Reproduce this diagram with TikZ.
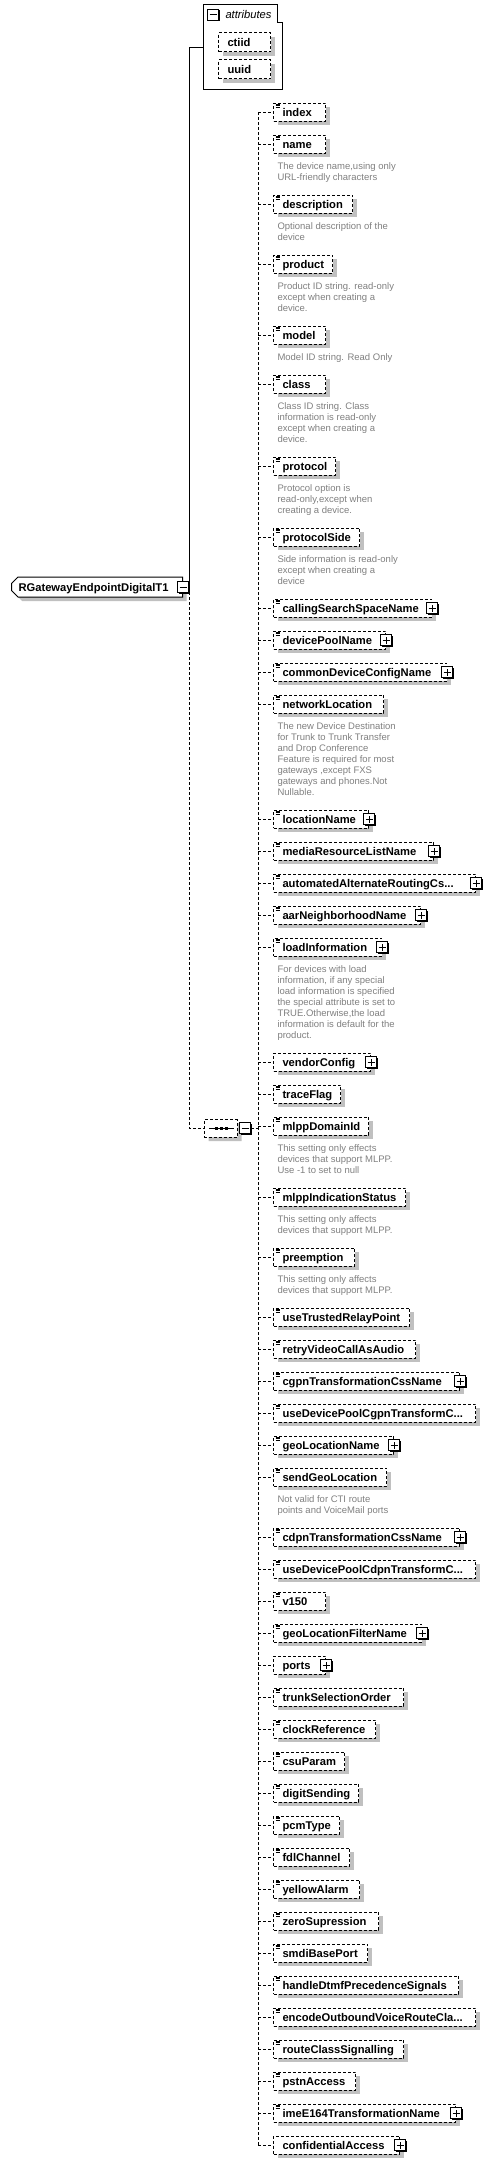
\documentclass[tikz,border=0pt]{standalone}
\usepackage{fontspec}
\setmainfont{Liberation Sans}
\usetikzlibrary{positioning, shapes.misc, shadows}
\definecolor{shadowGray}{HTML}{C0C0C0}
\definecolor{descGray}{HTML}{808080}
\tikzset{
  link/.style={dash pattern=on 3pt off 2pt},
  boxshadow/.style={general shadow={fill=shadowGray, shadow xshift=4pt, shadow yshift=-4pt}},
  elem/.style={draw, dash pattern=on 3pt off 2pt, fill=white, boxshadow, anchor=west,
    inner xsep=9pt, inner ysep=0pt, minimum height=18pt, text height=8pt, text depth=0pt,
    align=left, font=\fontsize{11.2}{13}\selectfont\bfseries},
  root/.style={draw, solid, fill=white, boxshadow, chamfered rectangle,
    chamfered rectangle corners={north west,south west}, chamfered rectangle xsep=3pt,
    anchor=west, inner xsep=4pt, inner ysep=0pt, minimum height=20pt, text width=157pt,
    text height=8pt, text depth=0pt, align=left, font=\fontsize{11.2}{13}\selectfont\bfseries},
  seqbox/.style={draw, dash pattern=on 3pt off 2pt, fill=white, boxshadow, chamfered rectangle,
    chamfered rectangle xsep=4pt, anchor=west, inner sep=0pt, minimum width=33pt, minimum height=18pt},
  expand/.style={draw, solid, fill=white, minimum size=11pt, inner sep=0pt,
    general shadow={fill=black, shadow xshift=1pt, shadow yshift=-1pt},
    path picture={
      \draw ([xshift=-3.5pt]path picture bounding box.center) -- ([xshift=3.5pt]path picture bounding box.center);
      \draw ([yshift=-3.5pt]path picture bounding box.center) -- ([yshift=3.5pt]path picture bounding box.center);}},
  collapse/.style={draw, solid, fill=white, minimum size=11pt, inner sep=0pt,
    general shadow={fill=black, shadow xshift=1pt, shadow yshift=-1pt},
    path picture={
      \draw ([xshift=-3.5pt]path picture bounding box.center) -- ([xshift=3.5pt]path picture bounding box.center);}},
  iconline/.style={solid, line width=0.8pt},
  desc/.style={anchor=north west, inner sep=0pt, align=left, text=descGray,
    font=\fontsize{9.5}{11}\selectfont},
}

\begin{document}
\begin{tikzpicture}[x=1pt, y=-1pt, line width=1pt]
  \useasboundingbox (0,0) rectangle (489,2164);

  % attribute group
  \node[minimum width=78pt, minimum height=84pt, inner sep=0pt] (attrs) at (243,47) {};
  \draw (attrs.north west) -- ([xshift=-5pt]attrs.north east) |- ([yshift=-18pt]attrs.north east)
    -- (attrs.south east) -- (attrs.south west) -- cycle;
  \node[collapse] (attrs-x) at ([shift={(9.5pt,-10pt)}]attrs.north west) {};
  \node[anchor=west, inner sep=0pt, font=\fontsize{11.2}{13}\selectfont\itshape] (attrs-t)
    at ([xshift=6pt]attrs-x.east) {attributes};
  \node[elem, minimum height=19pt, text width=34pt] (ctiid) at (218,42) {ctiid};
  \node[elem, minimum height=19pt, text width=34pt] (uuid) at (218,69) {uuid};

  % root element
  \node[root] (root) at (11,587) {\mbox{RGatewayEndpointDigitalT1}};
  \node[collapse] (root-x) at (root.east) {};
  \coordinate (trunk) at (189,587);
  \draw (root-x) -- (trunk) |- (attrs.west);

  % sequence
  \node[seqbox] (seq) at (204,1128) {};
  \draw ([xshift=5pt]seq.west) -- ([xshift=-4pt]seq.east);
  \foreach \d in {-5,0,5}
    \fill ([xshift=\d pt]seq.center) +(-1.5pt,-1.5pt) rectangle +(1.5pt,1.5pt);
  \node[collapse, right=1pt of seq] (seq-x) {};
  \draw[link] (trunk) |- (seq);
  \coordinate (bus) at (258,1128);
  \draw[link] (seq-x) -- (bus);

  % children: name/y/right edge/kind/label
  \foreach \nm/\yy/\rr/\ty/\lbl in {
    index/112/325/s/index,
    name/144/325/s/name,
    description/204/352/s/description,
    product/264/332/s/product,
    model/335/325/s/model,
    class/384/325/s/class,
    protocol/466/335/s/protocol,
    protocolSide/537/359/s/protocolSide,
    cssName/608/431/p/callingSearchSpaceName,
    devicePoolName/640/385/p/devicePoolName,
    commonConfig/672/446/p/commonDeviceConfigName,
    networkLocation/704/383/s/networkLocation,
    locationName/819/368/p/locationName,
    mrlName/851/433/p/mediaResourceListName,
    aarCss/883/475/p/automatedAlternateRoutingCs.{}.{}.,
    aarName/915/420/p/aarNeighborhoodName,
    loadInformation/947/381/p/loadInformation,
    vendorConfig/1062/370/c/vendorConfig,
    traceFlag/1094/340/s/traceFlag,
    mlppDomainId/1126/368/s/mlppDomainId,
    mlppIndication/1197/405/s/mlppIndicationStatus,
    preemption/1257/354/s/preemption,
    relayPoint/1317/409/s/useTrustedRelayPoint,
    retryVideo/1349/415/s/retryVideoCallAsAudio,
    cgpnCss/1381/459/p/cgpnTransformationCssName,
    cgpnPool/1413/475/s/useDevicePoolCgpnTransformC.{}.{}.,
    geoLocationName/1445/393/p/geoLocationName,
    sendGeoLocation/1477/386/s/sendGeoLocation,
    cdpnCss/1537/459/p/cdpnTransformationCssName,
    cdpnPool/1569/475/s/useDevicePoolCdpnTransformC.{}.{}.,
    v150/1601/325/s/v150,
    geoFilter/1633/421/p/geoLocationFilterName,
    ports/1665/325/c/ports,
    trunkOrder/1697/403/s/trunkSelectionOrder,
    clockReference/1729/375/s/clockReference,
    csuParam/1761/344/s/csuParam,
    digitSending/1793/358/s/digitSending,
    pcmType/1825/339/s/pcmType,
    fdlChannel/1857/349/s/fdlChannel,
    yellowAlarm/1889/359/s/yellowAlarm,
    zeroSupression/1921/378/s/zeroSupression,
    smdiBasePort/1953/367/s/smdiBasePort,
    dtmfSignals/1985/458/s/handleDtmfPrecedenceSignals,
    encodeRoute/2017/475/s/encodeOutboundVoiceRouteCla.{}.{}.,
    routeClass/2049/403/s/routeClassSignalling,
    pstnAccess/2081/355/s/pstnAccess,
    imeE164/2113/455/p/imeE164TransformationName,
    confidentialAccess/2145/399/c/confidentialAccess}{
    \pgfmathsetmacro{\tw}{\rr-291}
    \node[elem, text width=\tw pt] (\nm) at (273,\yy) {\mbox{\lbl}};
    \draw[link] (bus |- \nm.west) -- (\nm.west);
    \if c\ty\else
      \foreach \k in {1.5,3.2,4.9}
        \draw[iconline] ([shift={(2.5pt,-\k pt)}]\nm.north west) -- ++(4.5pt,0);
    \fi
    \if s\ty\else
      \node[expand] (\nm-x) at (\nm.east) {};
    \fi
  }
  \draw[link] (bus |- index.west) -- (bus |- confidentialAccess.west);

  % annotations
  \node[desc] (name-d) at ([shift={(4pt,-9pt)}]name.south west)
    {The device name,using only\\URL-friendly characters};
  \node[desc] (description-d) at ([shift={(4pt,-9pt)}]description.south west)
    {Optional description of the\\device};
  \node[desc] (product-d) at ([shift={(4pt,-9pt)}]product.south west)
    {Product ID string. read-only\\except when creating a\\device.};
  \node[desc] (model-d) at ([shift={(4pt,-9pt)}]model.south west)
    {Model ID string. Read Only};
  \node[desc] (class-d) at ([shift={(4pt,-9pt)}]class.south west)
    {Class ID string. Class\\information is read-only\\except when creating a\\device.};
  \node[desc] (protocol-d) at ([shift={(4pt,-9pt)}]protocol.south west)
    {Protocol option is\\read-only,except when\\creating a device.};
  \node[desc] (protocolSide-d) at ([shift={(4pt,-9pt)}]protocolSide.south west)
    {Side information is read-only\\except when creating a\\device};
  \node[desc] (networkLocation-d) at ([shift={(4pt,-9pt)}]networkLocation.south west)
    {The new Device Destination\\for Trunk to Trunk Transfer\\and Drop Conference\\Feature is required for most\\gateways ,except FXS\\gateways and phones.Not\\Nullable.};
  \node[desc] (loadInformation-d) at ([shift={(4pt,-9pt)}]loadInformation.south west)
    {For devices with load\\information, if any special\\load information is specified\\the special attribute is set to\\TRUE.Otherwise,the load\\information is default for the\\product.};
  \node[desc] (mlppDomainId-d) at ([shift={(4pt,-9pt)}]mlppDomainId.south west)
    {This setting only effects\\devices that support MLPP.\\Use -1 to set to null};
  \node[desc] (mlppIndication-d) at ([shift={(4pt,-9pt)}]mlppIndication.south west)
    {This setting only affects\\devices that support MLPP.};
  \node[desc] (preemption-d) at ([shift={(4pt,-9pt)}]preemption.south west)
    {This setting only affects\\devices that support MLPP.};
  \node[desc] (sendGeoLocation-d) at ([shift={(4pt,-9pt)}]sendGeoLocation.south west)
    {Not valid for CTI route\\points and VoiceMail ports};
\end{tikzpicture}
\end{document}
